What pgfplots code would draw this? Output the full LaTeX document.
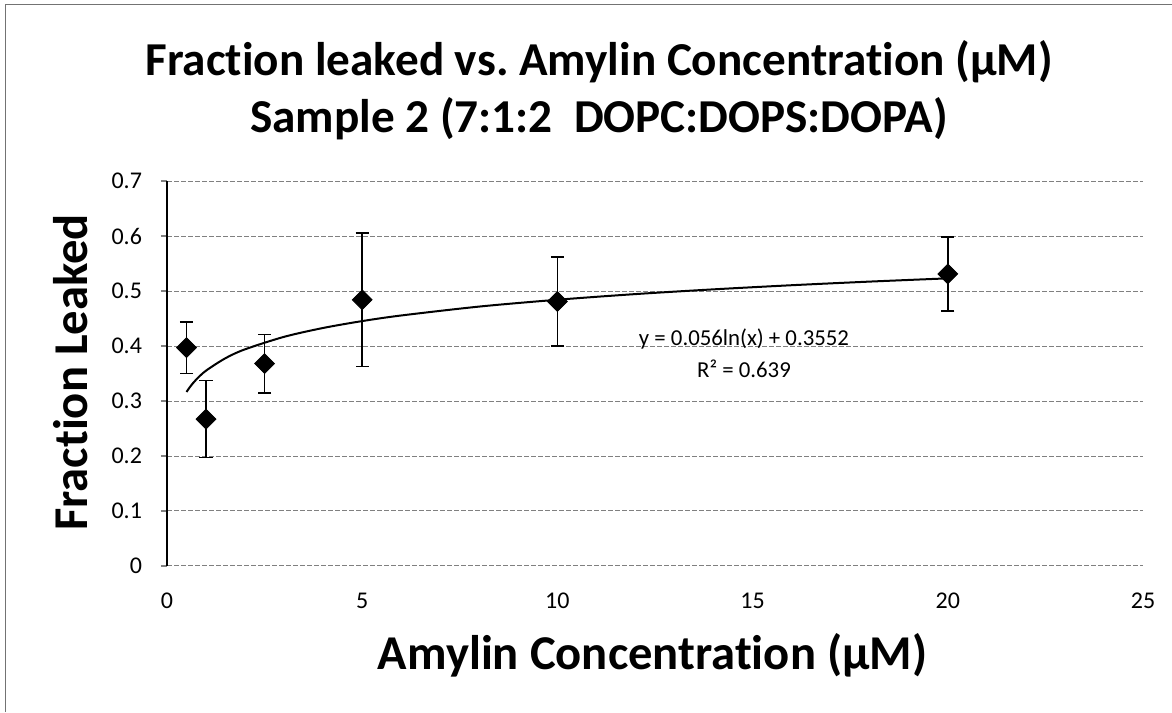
\documentclass[border=0pt]{standalone}
\usepackage{fontspec}
\setmainfont[Ligatures=NoCommon]{Carlito}
\usepackage{pgfplots}
\pgfplotsset{compat=1.18}
\pgfplotstableread{
x    y      e
0.5  0.397  0.047
1    0.267  0.070
2.5  0.368  0.053
5    0.484  0.121
10   0.481  0.081
20   0.531  0.067
}\leaked
\pgfplotstableread{
x     y
0.5   0.3164
0.6   0.3266
0.75  0.3391
1     0.3552
1.5   0.3779
2     0.3940
3     0.4167
4     0.4328
5     0.4453
6     0.4555
8     0.4717
10    0.4841
12    0.4944
14    0.5030
16    0.5105
18    0.5171
20    0.5230
}\trend
\begin{document}
\begin{tikzpicture}
\useasboundingbox (0,0) rectangle (586pt,356pt);
\draw[black!55,line width=0.5pt] (2.5pt,0) -- (2.5pt,353.5pt) -- (586pt,353.5pt);
\begin{axis}[
  at={(83.5pt,73pt)},anchor=south west,
  scale only axis,width=488pt,height=192.5pt,
  xmin=0,xmax=25,ymin=0,ymax=0.7,
  xtick={0,5,...,25},ytick={0,0.1,...,0.7},
  axis y line*=left,axis x line*=bottom,
  x axis line style={draw=none},
  y axis line style={line width=0.9pt},
  xtick style={draw=none},
  ytick style={line width=0.6pt},
  tick align=outside,major tick length=3pt,
  ymajorgrids,
  grid style={black!50,line width=0.5pt,dash pattern=on 2.5pt off 1pt},
  yticklabel style={/pgf/number format/fixed,/pgf/number format/precision=1},
  /pgf/number format/assume math mode=true,
  tick label style={font=\fontsize{12}{12}\selectfont},
  xticklabel style={yshift=-7pt},
  yticklabel style={xshift=-6pt},
  clip=false,
]
\addplot[black,line width=1pt,smooth] table[x=x,y=y] {\trend};
\addplot[black,only marks,mark=square*,mark size=3.5pt,
  mark options={rotate=45,fill=black},
  error bars/.cd,y dir=both,y explicit,
  error bar style={line width=0.8pt,black},
  error mark options={rotate=90,mark size=3.3pt,line width=0.8pt}]
  table[x=x,y=y,y error=e] {\leaked};
\node[font=\fontsize{11.4}{12}\selectfont,anchor=base] at (axis cs:14.78,0.4018) {y = 0.056ln(x) + 0.3552};
\node[font=\fontsize{11.4}{12}\selectfont,anchor=base] at (axis cs:14.78,0.3424) {R² = 0.639};
\end{axis}
\node[font=\bfseries\fontsize{23.6}{26}\selectfont,anchor=base] at (299.5pt,318pt) {Fraction leaked vs.\ Amylin Concentration (µM)};
\node[font=\bfseries\fontsize{23.6}{26}\selectfont,anchor=base] at (299.5pt,289.5pt) {Sample 2 (7:1:2\ \ DOPC:DOPS:DOPA)};
\node[font=\bfseries\fontsize{24.3}{26}\selectfont,anchor=base] at (326.25pt,21pt) {Amylin Concentration (µM)};
\node[font=\bfseries\fontsize{24.3}{26}\selectfont,rotate=90,anchor=base] at (43.5pt,169.75pt) {Fraction Leaked};
\end{tikzpicture}
\end{document}
